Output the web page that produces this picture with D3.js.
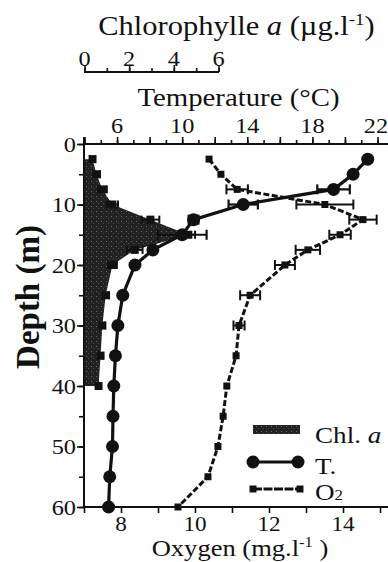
<!DOCTYPE html>
<html><head><meta charset="utf-8">
<script src="https://cdn.jsdelivr.net/npm/d3@7"></script>
<style>html,body{margin:0;padding:0;background:#fff;}svg{display:block;}
text{font-family:'Liberation Serif','Times New Roman',Times,serif;}</style>
</head><body>
<svg id="c" width="388" height="562"></svg>
<script>
// ---- data ----
const depths = [2.5,5,7.5,10,12.5,15,17.5,20,25,30,35,40,45,50,55,60];
const tempVals = [21.4,20.5,19.3,13.75,10.7,10.0,8.2,7.1,6.35,6.05,5.9,5.8,5.75,5.72,5.55,5.48];
const tempErr  = [0,0,1.0,0.9,0.3,1.5,0,0,0,0,0,0,0,0,0,0];
const oxyVals  = [10.38,10.7,11.14,13.51,14.54,13.92,13.05,12.43,11.49,11.19,11.11,10.86,10.76,10.62,10.35,9.54];
const oxyErr   = [0,0,0.29,0.77,0.37,0.29,0.33,0.27,0.27,0.15,0,0,0,0,0,0];
const chlDepths = [2.5,5,7.5,10,12.5,15,17.5,20,25,30,35,40];
const chlVals   = [0.36,0.54,0.8,1.25,2.95,4.65,2.25,1.25,0.95,0.8,0.72,0.63];
const chlErr    = [0.1,0.15,0.2,0.25,0.4,0.3,0.35,0.2,0.15,0.1,0.1,0.1];
const depthTicks = [0,10,20,30,40,50,60];
const tempTickLabels = [6,10,14,18,22];
const oxyTickLabels = [8,10,12,14];
const chlTickLabels = [0,2,4,6];

const SX = 1.13; // horizontal stretch of the original lettering
const svg = d3.select("#c");

const y = d3.scaleLinear().domain([0,60]).range([144,507]);
const xT = d3.scaleLinear().domain([4,22]).range([84.5,377.5]);
const xO = d3.scaleLinear().domain([7,15]).range([84,380]);
const xC = d3.scaleLinear().domain([0,6]).range([84.5,218.5]);

// texture for chlorophyll fill
const defs = svg.append("defs");
const pat = defs.append("pattern").attr("id","stip").attr("width",5).attr("height",5)
  .attr("patternUnits","userSpaceOnUse");
pat.append("rect").attr("width",5).attr("height",5).attr("fill","#222");
pat.append("rect").attr("x",1).attr("y",1).attr("width",1).attr("height",1).attr("fill","#6a6a6a");
pat.append("rect").attr("x",3).attr("y",3).attr("width",1).attr("height",1).attr("fill","#4a4a4a");

function txt(x, yy, parts, size, anchor, opts={}) {
  const g = svg.append("g").attr("transform",`translate(${x},${yy})` + (opts.rot?` rotate(${opts.rot})`:"") + ` scale(${opts.sx||SX},1)`);
  const t = g.append("text").attr("font-size",size)
    .attr("text-anchor",anchor||"start").attr("fill","#111");
  if (opts.weight) t.attr("font-weight",opts.weight);
  parts.forEach(p=>{
    const s = t.append("tspan").text(p.t);
    if (p.i) s.attr("font-style","italic");
    if (p.sup) s.attr("font-size",size*0.62).attr("dy",-size*0.38);
    if (p.sub) s.attr("font-size",size*0.62);
    if (p.down) s.attr("dy",size*0.38);
  });
  return t;
}

// ---- chlorophyll area ----
const chlData = chlDepths.map((d,i)=>({d, v:chlVals[i], e:chlErr[i]}));
svg.append("path").datum(chlData)
  .attr("d", d3.area().y(d=>y(d.d)).x0(xC(0)).x1(d=>xC(d.v)))
  .attr("fill","url(#stip)");
const cg = svg.append("g");
chlData.forEach(d=>{
  const cy = y(d.d);
  cg.append("line").attr("x1",xC(d.v-d.e)).attr("x2",xC(d.v+d.e)).attr("y1",cy).attr("y2",cy)
    .attr("stroke","#111").attr("stroke-width",2);
  [d.v-d.e,d.v+d.e].forEach(v=>cg.append("line").attr("x1",xC(v)).attr("x2",xC(v))
    .attr("y1",cy-4).attr("y2",cy+4).attr("stroke","#111").attr("stroke-width",2));
  cg.append("rect").attr("x",xC(d.v)-4).attr("y",cy-4).attr("width",8).attr("height",8).attr("fill","#111");
});

// ---- oxygen ----
const oData = depths.map((d,i)=>({d, v:oxyVals[i], e:oxyErr[i]}));
svg.append("path").datum(oData)
  .attr("d", d3.line().x(d=>xO(d.v)).y(d=>y(d.d)))
  .attr("fill","none").attr("stroke","#111").attr("stroke-width",3).attr("stroke-dasharray","6,2.5");
const og = svg.append("g");
oData.forEach(d=>{
  const cy = y(d.d);
  if (d.e>0){
    og.append("line").attr("x1",xO(d.v-d.e)).attr("x2",xO(d.v+d.e)).attr("y1",cy).attr("y2",cy)
      .attr("stroke","#111").attr("stroke-width",2);
    [d.v-d.e,d.v+d.e].forEach(v=>og.append("line").attr("x1",xO(v)).attr("x2",xO(v))
      .attr("y1",cy-5).attr("y2",cy+5).attr("stroke","#111").attr("stroke-width",2));
  }
  og.append("rect").attr("x",xO(d.v)-3.5).attr("y",cy-3.5).attr("width",7).attr("height",7).attr("fill","#111");
});

// ---- temperature ----
const tData = depths.map((d,i)=>({d, v:tempVals[i], e:tempErr[i]}));
svg.append("path").datum(tData)
  .attr("d", d3.line().x(d=>xT(d.v)).y(d=>y(d.d)))
  .attr("fill","none").attr("stroke","#111").attr("stroke-width",3.2);
const tg = svg.append("g");
tData.forEach(d=>{
  const cy = y(d.d);
  if (d.e>0){
    tg.append("line").attr("x1",xT(d.v-d.e)).attr("x2",xT(d.v+d.e)).attr("y1",cy).attr("y2",cy)
      .attr("stroke","#111").attr("stroke-width",2.2);
    [d.v-d.e,d.v+d.e].forEach(v=>tg.append("line").attr("x1",xT(v)).attr("x2",xT(v))
      .attr("y1",cy-5).attr("y2",cy+5).attr("stroke","#111").attr("stroke-width",2.2));
  }
  tg.append("circle").attr("cx",xT(d.v)).attr("cy",cy).attr("r",6.5).attr("fill","#111");
});

// ---- axes ----
function styleAxis(g){ g.select(".domain").remove(); g.selectAll("line").attr("stroke","#111").attr("stroke-width",1.6); g.selectAll("text").remove(); }
// depth (left)
svg.append("g").attr("transform","translate(84,0)")
  .call(d3.axisLeft(y).tickValues(d3.range(0,61,5)).tickSize(5).tickSizeOuter(0)).call(styleAxis);
svg.append("g").attr("transform","translate(84,0)")
  .call(d3.axisLeft(y).tickValues(depthTicks).tickSize(7).tickSizeOuter(0)).call(styleAxis);
svg.append("line").attr("x1",84).attr("x2",84).attr("y1",137).attr("y2",508).attr("stroke","#111").attr("stroke-width",2);
depthTicks.forEach(v=>txt(76, y(v)+7.5, [{t:String(v)}], 21.5, "end"));

// temperature (top)
svg.append("g").attr("transform","translate(0,144)")
  .call(d3.axisTop(xT).tickValues(d3.range(4,23,1)).tickSize(4).tickSizeOuter(0)).call(styleAxis);
svg.append("g").attr("transform","translate(0,144)")
  .call(d3.axisTop(xT).tickValues(d3.range(4,23,2)).tickSize(7).tickSizeOuter(0)).call(styleAxis);
svg.append("line").attr("x1",84).attr("x2",388).attr("y1",144).attr("y2",144).attr("stroke","#111").attr("stroke-width",2);
tempTickLabels.forEach(v=>txt(Math.min(xT(v),376), 133, [{t:String(v)}], 21.5, "middle"));
txt(238.5, 106, [{t:"Temperature (°C)"}], 25.5, "middle");

// oxygen (bottom)
svg.append("g").attr("transform","translate(0,507)")
  .call(d3.axisBottom(xO).tickValues(d3.range(7,16,1)).tickSize(6).tickSizeOuter(0)).call(styleAxis);
svg.append("line").attr("x1",84).attr("x2",388).attr("y1",507).attr("y2",507).attr("stroke","#111").attr("stroke-width",2);
oxyTickLabels.forEach(v=>txt(xO(v), 531, [{t:String(v)}], 20.5, "middle"));
txt(240, 555.5, [{t:"Oxygen (mg.l"},{t:"-1",sup:true},{t:" )",down:true}], 23.5, "middle");

// chlorophyll (top-most)
svg.append("g").attr("transform","translate(0,72)")
  .call(d3.axisTop(xC).tickValues(d3.range(0,7,1)).tickSize(4).tickSizeOuter(0)).call(styleAxis);
svg.append("g").attr("transform","translate(0,72)")
  .call(d3.axisTop(xC).tickValues(d3.range(0,7,2)).tickSize(7).tickSizeOuter(0)).call(styleAxis);
svg.append("line").attr("x1",84).attr("x2",219).attr("y1",72).attr("y2",72).attr("stroke","#111").attr("stroke-width",2);
chlTickLabels.forEach(v=>txt(xC(v), 66, [{t:String(v)}], 21.5, "middle"));
txt(236.5, 35, [{t:"Chlorophylle "},{t:"a",i:true},{t:" (µg.l"},{t:"-1",sup:true},{t:")",down:true}], 27, "middle");

// depth title
txt(39, 297, [{t:"Depth (m)"}], 33, "middle", {rot:-90, sx:1, weight:"bold"});

// ---- legend ----
svg.append("rect").attr("x",253).attr("y",425).attr("width",47).attr("height",9).attr("fill","url(#stip)");
txt(315, 443, [{t:"Chl. "},{t:"a",i:true}], 24, "start");
svg.append("line").attr("x1",253).attr("x2",298).attr("y1",462).attr("y2",462).attr("stroke","#111").attr("stroke-width",3);
[253,298].forEach(x=>svg.append("circle").attr("cx",x).attr("cy",462).attr("r",6.5).attr("fill","#111"));
txt(315, 474, [{t:"T."}], 24, "start");
svg.append("line").attr("x1",253).attr("x2",300).attr("y1",489).attr("y2",489).attr("stroke","#111").attr("stroke-width",3).attr("stroke-dasharray","9,1.5");
[253,300].forEach(x=>svg.append("rect").attr("x",x-3.5).attr("y",485.5).attr("width",7).attr("height",7).attr("fill","#111"));
txt(315, 500, [{t:"O"},{t:"2",sub:true}], 24, "start");
</script>
</body></html>
